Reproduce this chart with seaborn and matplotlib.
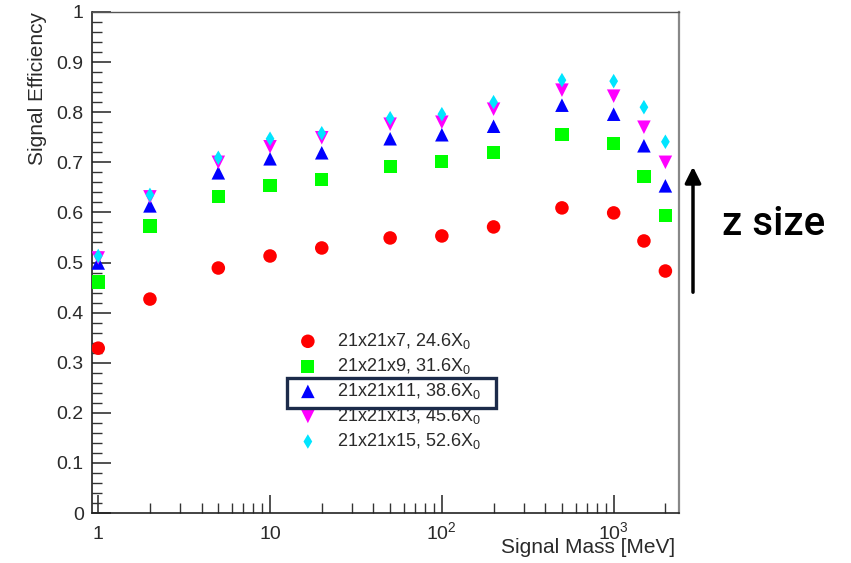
import numpy as np
import pandas as pd
import matplotlib
matplotlib.use("Agg")
import matplotlib.pyplot as plt
from matplotlib.patches import Rectangle, FancyArrowPatch
from matplotlib.ticker import FixedLocator, FuncFormatter, MultipleLocator, LogLocator, NullFormatter
import seaborn as sns

masses = [1, 2, 5, 10, 20, 50, 100, 200, 500, 1000, 1500, 2000]
eff_7 = [0.329, 0.427, 0.489, 0.513, 0.529, 0.549, 0.553, 0.571, 0.609, 0.599, 0.543, 0.483]
eff_9 = [0.461, 0.573, 0.631, 0.653, 0.665, 0.691, 0.701, 0.719, 0.756, 0.737, 0.671, 0.593]
eff_11 = [0.499, 0.613, 0.679, 0.707, 0.719, 0.747, 0.755, 0.772, 0.814, 0.796, 0.733, 0.653]
eff_13 = [0.509, 0.631, 0.700, 0.731, 0.749, 0.776, 0.780, 0.806, 0.844, 0.832, 0.770, 0.700]
eff_15 = [0.513, 0.635, 0.709, 0.747, 0.758, 0.788, 0.796, 0.820, 0.864, 0.862, 0.810, 0.741]
labels = [r"21x21x7, 24.6X$_0$", r"21x21x9, 31.6X$_0$", r"21x21x11, 38.6X$_0$",
          r"21x21x13, 45.6X$_0$", r"21x21x15, 52.6X$_0$"]
x_tick_labels = ["1", "10", r"$10^{2}$", r"$10^{3}$"]
y_tick_labels = ["0", "0.1", "0.2", "0.3", "0.4", "0.5", "0.6", "0.7", "0.8", "0.9", "1"]

series = [eff_7, eff_9, eff_11, eff_13, eff_15]
colors = ["#ff0000", "#00ff00", "#0000ff", "#ff00ff", "#00e5ff"]
markers = ["o", "s", "^", "v", "d"]
sizes = [95, 90, 95, 95, 55]

sns.set_style("white")
plt.rcParams["font.family"] = ["Liberation Sans", "DejaVu Sans"]
plt.rcParams["mathtext.fontset"] = "custom"
plt.rcParams["mathtext.rm"] = "Liberation Sans"
plt.rcParams["mathtext.it"] = "Liberation Sans:italic"
plt.rcParams["mathtext.default"] = "rm"

fig = plt.figure(figsize=(8.51, 5.63), dpi=100)
ax = fig.add_axes([92/851, 50/563, 587/851, 501/563])

for vals, c, m, s, lab in zip(series, colors, markers, sizes, labels):
    df = pd.DataFrame({"mass": masses, "eff": vals})
    sns.scatterplot(data=df, x="mass", y="eff", ax=ax, color=c, marker=m, s=s,
                    edgecolor="none", linewidth=0, label=lab, zorder=3)

ax.set_xscale("log")
ax.set_xlim(0.92, 2400)
ax.set_ylim(0, 1)

ax.xaxis.set_major_locator(FixedLocator([1, 10, 100, 1000]))
ax.xaxis.set_major_formatter(FuncFormatter(lambda v, p: x_tick_labels[int(round(np.log10(v)))]))
ax.xaxis.set_minor_locator(LogLocator(base=10, subs=np.arange(2, 10)))
ax.xaxis.set_minor_formatter(NullFormatter())
ax.yaxis.set_major_locator(FixedLocator(np.arange(0, 11) / 10))
ax.set_yticklabels(y_tick_labels)
ax.yaxis.set_minor_locator(MultipleLocator(0.02))

ax.tick_params(axis="both", which="both", bottom=True, left=True, top=False, right=False)
ax.tick_params(axis="both", which="major", direction="in", length=14, width=1.2,
               color="#333333", labelsize=14, labelcolor="#2a2a2a")
ax.tick_params(axis="y", which="major", pad=6)
ax.tick_params(axis="x", which="major", pad=19, length=13)
ax.tick_params(axis="both", which="minor", direction="in", length=7, width=1.0, color="#333333")

for sp in ["left", "bottom"]:
    ax.spines[sp].set_color("#222222")
    ax.spines[sp].set_linewidth(1.2)
ax.spines["top"].set_color("#555555")
ax.spines["top"].set_linewidth(1.0)
ax.spines["right"].set_color("#888888")
ax.spines["right"].set_linewidth(1.6)

ax.set_ylabel("Signal Efficiency", fontsize=15, color="#2a2a2a", loc="top")
ax.yaxis.set_label_coords(-0.077, 1.0)
ax.set_xlabel("Signal Mass [MeV]", fontsize=15, color="#2a2a2a", loc="right")
ax.xaxis.set_label_coords(1 - 4/587, -0.050)

leg = ax.legend(loc="upper left", bbox_to_anchor=(288/851, 1 - 322/563),
                bbox_transform=fig.transFigure, frameon=False, fontsize=13,
                handletextpad=1.0, labelspacing=0.28, borderpad=0, handlelength=1.2)
for t in leg.get_texts():
    t.set_color("#2a2a2a")

fig.patches.append(Rectangle((287/851, 1 - 408/563), 209/851, 30/563,
                             transform=fig.transFigure, fill=False,
                             edgecolor="#1c2b4a", linewidth=2.4))

fig.add_artist(FancyArrowPatch(
    (693/851, 1 - 295/563), (693/851, 1 - 164/563), transform=fig.transFigure,
    arrowstyle="-|>", mutation_scale=24, color="black", linewidth=2.5))
fig.text(722/851, 1 - 224/563, "z size", fontsize=29, family="Roboto",
         fontweight="medium", va="center", ha="left", color="black")

fig.canvas.draw()
for lab in ax.get_xticklabels():
    lab.set_verticalalignment("baseline")

fig.savefig("out.png", dpi=100)
